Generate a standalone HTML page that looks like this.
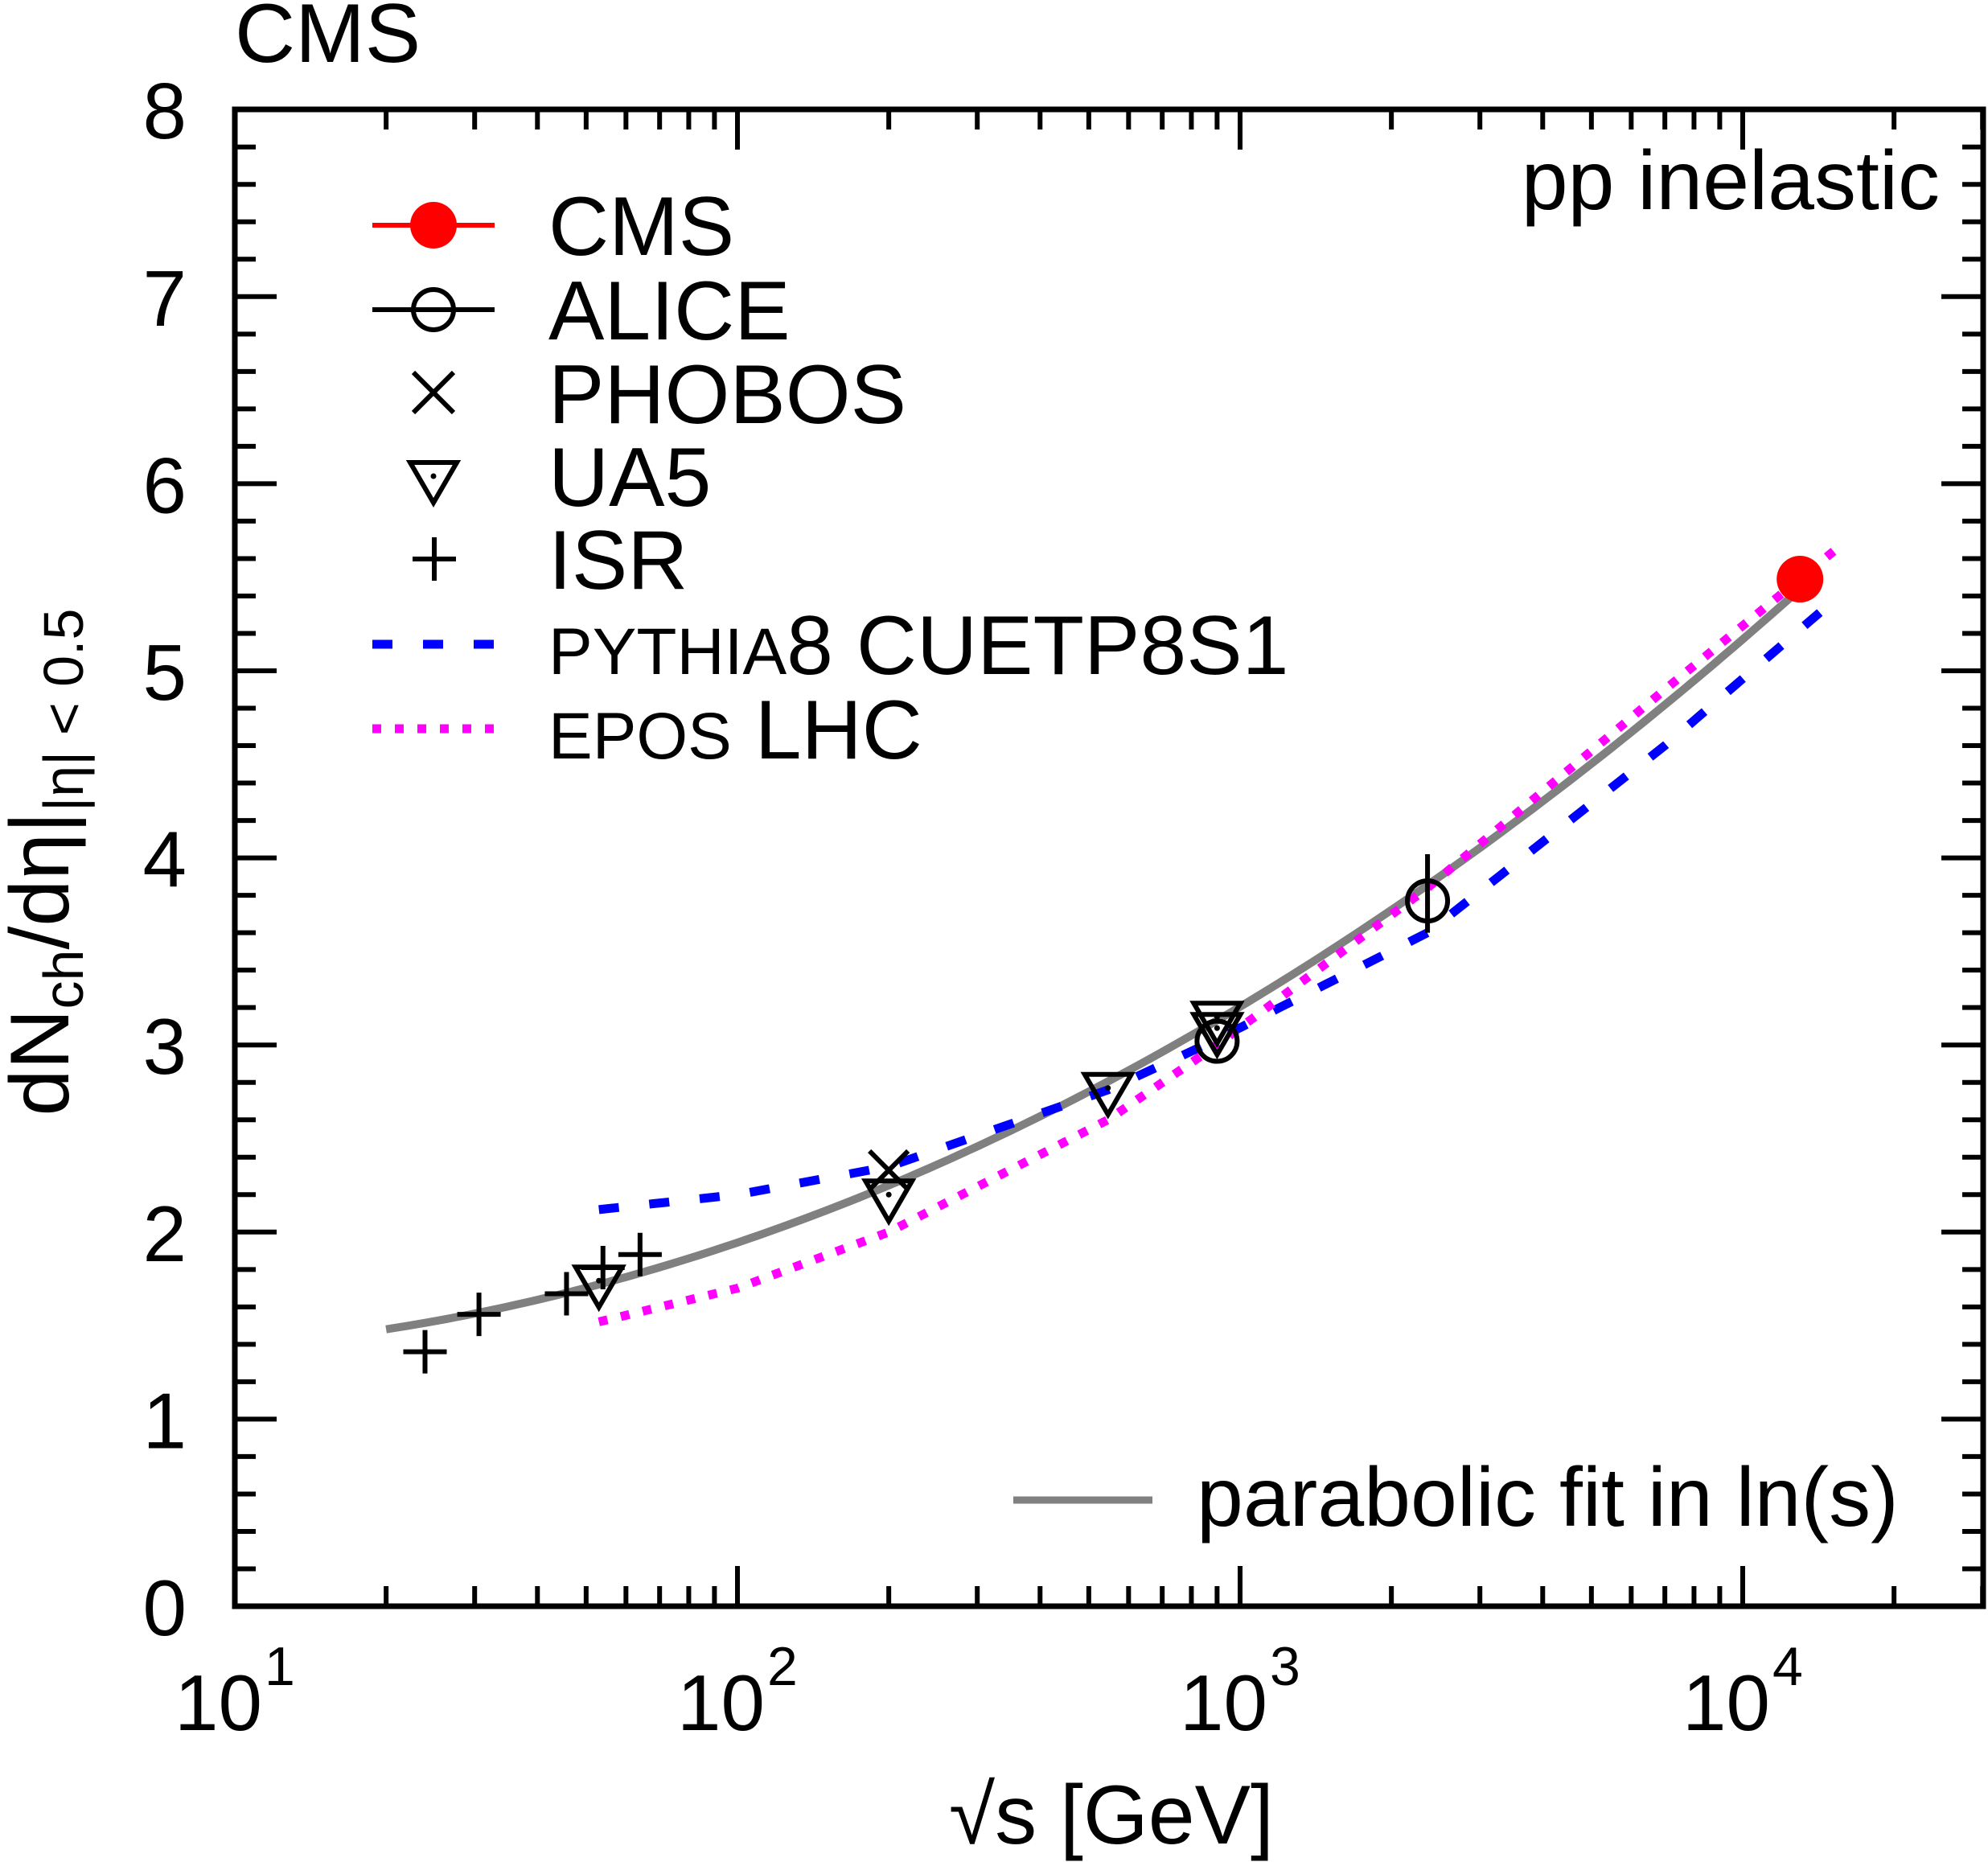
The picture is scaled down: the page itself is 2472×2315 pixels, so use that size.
<!DOCTYPE html><html><head><meta charset="utf-8"><style>html,body{margin:0;padding:0;background:#fff}svg{display:block}text{font-family:"Liberation Sans",sans-serif;fill:#000}</style></head><body>
<svg id="s" width="2472" height="2315" viewBox="0 0 2472 2315" xmlns="http://www.w3.org/2000/svg">
<text x="292" y="77" font-size="104">CMS</text>
<text x="2412" y="260" font-size="104" text-anchor="end">pp inelastic</text>
<g id="ax"></g>
<g id="data"></g>
<rect x="292" y="136" width="2174" height="1861" fill="none" stroke="#000" stroke-width="7"/>
<line x1="463" y1="280" x2="615" y2="280" stroke="#f00" stroke-width="6"/>
<circle cx="539" cy="280" r="29" fill="#f00"/>
<text x="682" y="317" font-size="104">CMS</text>
<line x1="463" y1="385" x2="615" y2="385" stroke="#000" stroke-width="6"/>
<circle cx="539" cy="385" r="25" fill="none" stroke="#000" stroke-width="6"/>
<text x="682" y="422" font-size="104">ALICE</text>
<path d="M514 463L564 513M564 463L514 513" stroke="#000" stroke-width="6"/>
<text x="682" y="526" font-size="104">PHOBOS</text>
<path d="M510 575L568 575L539 625Z" fill="none" stroke="#000" stroke-width="6"/><circle cx="539" cy="592" r="3.5"/>
<text x="682" y="629" font-size="104">UA5</text>
<path d="M513 695H567M540 668V722" stroke="#000" stroke-width="6"/>
<text x="682" y="732" font-size="104">ISR</text>
<line x1="463" y1="801" x2="615" y2="801" stroke="#00f" stroke-width="11" stroke-dasharray="25,38"/>
<text x="682" y="838" font-size="104"><tspan font-size="82">PYTHIA</tspan>8 CUETP8S1</text>
<line x1="463" y1="906" x2="615" y2="906" stroke="#f0f" stroke-width="11" stroke-dasharray="11,17"/>
<text x="682" y="943" font-size="104"><tspan font-size="82">EPOS</tspan> LHC</text>
<line x1="1260" y1="1865" x2="1433" y2="1865" stroke="#808080" stroke-width="9"/>
<text x="1488" y="1897" font-size="104">parabolic fit in ln(s)</text>
<text x="1180" y="2292" font-size="104">√s [GeV]</text>
<text transform="translate(85,1072) rotate(-90)" font-size="104" text-anchor="middle">dN<tspan font-size="70" dy="18">ch</tspan><tspan dy="-18">/dη|</tspan><tspan font-size="70" dy="18">|η| &lt; 0.5</tspan></text>
</svg>
<script>
var NS="http://www.w3.org/2000/svg";
function X(v){return 292+625*Math.log10(v/10);}
function Y(v){return 1997-232.6*v;}
function el(p,t,a,txt){var e=document.createElementNS(NS,t);for(var k in a)e.setAttribute(k,a[k]);if(txt!==undefined)e.textContent=txt;p.appendChild(e);return e;}
var ax=document.getElementById("ax"),d="";
for(var i=0;i<=40;i++){var y=Y(i*0.2),L=(i%5==0)?52:26;d+="M292 "+y+"h"+L+"M2466 "+y+"h"+(-L);}
for(var e=1;e<=4;e++)for(var m=1;m<10;m++){var v=m*Math.pow(10,e),x=X(v);if(x<=292.5||x>2466)continue;var L=(m==1)?50:25;d+="M"+x+" 1997v"+(-L)+"M"+x+" 136v"+L;}
el(ax,"path",{d:d,stroke:"#000","stroke-width":6,fill:"none"});
for(var i=0;i<=8;i++)el(ax,"text",{x:232,y:Y(i)+36,"font-size":98,"text-anchor":"end"},String(i));
for(var e=1;e<=4;e++){var x=X(Math.pow(10,e));el(ax,"text",{x:x-75,y:2151,"font-size":98},"10");el(ax,"text",{x:x+37,y:2095,"font-size":68},String(e));}
var g=document.getElementById("data");
function curve(pts,attrs){var p="";for(var i=0;i<pts.length;i++)p+=(i?"L":"M")+X(pts[i][0]).toFixed(1)+" "+Y(pts[i][1]).toFixed(1);attrs.d=p;attrs.fill="none";el(g,"path",attrs);}
var fit=[];for(var lx=Math.log10(20);lx<=Math.log10(14000);lx+=0.02){var s=Math.pow(10,lx),u=2*Math.log(s)-5.99;fit.push([s,1.48+0.0906*u+0.01658*u*u]);}
curve(fit,{stroke:"#808080","stroke-width":10});
function spline(k){var out=[];for(var i=0;i<k.length-1;i++){var a=Math.log10(k[i][0]),b=Math.log10(k[i+1][0]);for(var j=0;j<10;j++){var t=j/10;out.push([Math.pow(10,a+(b-a)*t),k[i][1]+(k[i+1][1]-k[i][1])*t]);}}out.push(k[k.length-1]);return out;}
curve(spline([[53,2.12],[100,2.2],[200,2.35],[546,2.76],[900,3.03],[2360,3.6],[7000,4.6],[14500,5.33]]),{stroke:"#00f","stroke-width":11,"stroke-dasharray":"25,38"});
curve(spline([[53,1.52],[100,1.7],[200,2.0],[546,2.6],[900,3.0],[2360,3.84],[7000,4.9],[15500,5.66]]),{stroke:"#f0f","stroke-width":11,"stroke-dasharray":"11,17"});
function plus(v,y){var x=X(v),yy=Y(y);el(g,"path",{d:"M"+(x-27)+" "+yy+"h54M"+x+" "+(yy-27)+"v54",stroke:"#000","stroke-width":6});}
[[23.9,1.36],[30.6,1.56],[45.7,1.67],[54,1.81],[64,1.88]].forEach(function(p){plus(p[0],p[1]);});
function tri(v,y){var x=X(v),yy=Y(y);el(g,"path",{d:"M"+(x-29)+" "+(yy-17)+"L"+(x+29)+" "+(yy-17)+"L"+x+" "+(yy+33)+"Z",fill:"none",stroke:"#000","stroke-width":6});el(g,"circle",{cx:x,cy:yy,r:3.5});}
[[53,1.74],[200,2.2],[546,2.77],[900,3.09],[900,3.15]].forEach(function(p){tri(p[0],p[1]);});
var px=X(200),py=Y(2.33);el(g,"path",{d:"M"+(px-24)+" "+(py-24)+"l48 48M"+(px+24)+" "+(py-24)+"l-48 48",stroke:"#000","stroke-width":6});
function circ(v,y){el(g,"circle",{cx:X(v),cy:Y(y),r:25,fill:"none",stroke:"#000","stroke-width":6});}
circ(900,3.02);circ(2360,3.77);
el(g,"path",{d:"M"+X(2360)+" "+Y(4.02)+"V"+Y(3.6),stroke:"#000","stroke-width":6});
el(g,"circle",{cx:X(13000),cy:Y(5.49),r:29,fill:"#f00"});
</script>
</body></html>
